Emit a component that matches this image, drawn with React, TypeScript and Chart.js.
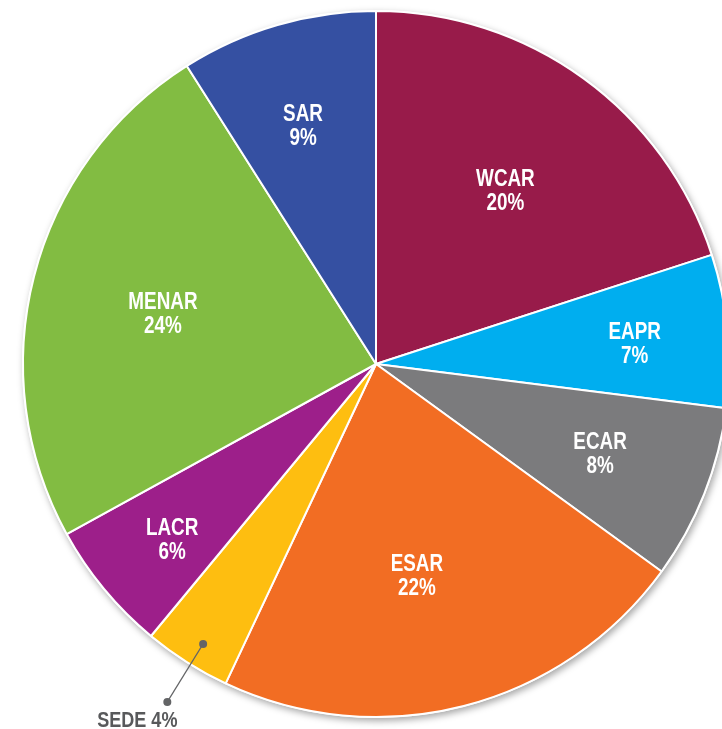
import React, { useEffect, useRef } from "react";
import { Chart, registerables } from "chart.js";

Chart.register(...registerables);

const categories = ["WCAR", "EAPR", "ECAR", "ESAR", "SEDE", "LACR", "MENAR", "SAR"];
const shares = [20, 7, 8, 22, 4, 6, 24, 9];
const percentLabels = ["20%", "7%", "8%", "22%", "4%", "6%", "24%", "9%"];
const sliceColors = ["#981B4A", "#00AEEF", "#7B7B7D", "#F26D23", "#FEBE10", "#9D1F8A", "#82BC42", "#3550A2"];
const labelRadius = [0.612, 0.735, 0.684, 0.612, 0, 0.763, 0.62, 0.705];
const labelAngleShift = [0.8, 1.0, 0.3, 3.5, -0.7, -1.2, -1.2, -0.85];
const outsideIndex = 4;

const FONT = '"Liberation Sans", Arial, Helvetica, sans-serif';
const SQUEEZE = 0.82;

function drawSqueezed(ctx: CanvasRenderingContext2D, text: string, x: number, y: number) {
  ctx.save();
  ctx.translate(x, y);
  ctx.scale(SQUEEZE, 1);
  ctx.fillText(text, 0, 0);
  ctx.restore();
}

const shadowPlugin = {
  id: "pieShadow",
  beforeDatasetsDraw(chart: any) {
    const ctx = chart.ctx;
    const arc = chart.getDatasetMeta(0).data[0];
    if (!arc) return;
    const p = arc.getProps(["x", "y", "outerRadius"], true);
    ctx.save();
    ctx.shadowColor = "rgba(0,0,0,0.35)";
    ctx.shadowBlur = 7;
    ctx.shadowOffsetX = 2;
    ctx.shadowOffsetY = 3;
    ctx.fillStyle = "#FFFFFF";
    ctx.beginPath();
    ctx.arc(p.x, p.y, p.outerRadius + 1, 0, Math.PI * 2);
    ctx.fill();
    ctx.restore();
  },
};

const labelPlugin = {
  id: "sliceLabels",
  afterDatasetsDraw(chart: any) {
    const ctx = chart.ctx;
    const meta = chart.getDatasetMeta(0);
    meta.data.forEach((arc: any, i: number) => {
      const p = arc.getProps(["x", "y", "startAngle", "endAngle", "outerRadius"], true);
      const mid = (p.startAngle + p.endAngle) / 2 + (labelAngleShift[i] * Math.PI) / 180;
      ctx.save();
      if (i === outsideIndex) {
        const r1 = p.outerRadius * 0.932;
        const r2 = p.outerRadius * 1.125;
        const x1 = p.x + Math.cos(mid) * r1;
        const y1 = p.y + Math.sin(mid) * r1;
        const x2 = p.x + Math.cos(mid) * r2;
        const y2 = p.y + Math.sin(mid) * r2;
        ctx.strokeStyle = "#636466";
        ctx.fillStyle = "#636466";
        ctx.lineWidth = 1.2;
        ctx.beginPath();
        ctx.moveTo(x1, y1);
        ctx.lineTo(x2, y2);
        ctx.stroke();
        [[x1, y1], [x2, y2]].forEach(([cx, cy]) => {
          ctx.beginPath();
          ctx.arc(cx, cy, 4, 0, Math.PI * 2);
          ctx.fill();
        });
        ctx.fillStyle = "#58595B";
        ctx.font = `bold 22px ${FONT}`;
        ctx.textAlign = "center";
        ctx.textBaseline = "alphabetic";
        drawSqueezed(ctx, `${categories[i]} ${percentLabels[i]}`, x2 - 30, y2 + 25);
      } else {
        const r = p.outerRadius * labelRadius[i];
        const cx = p.x + Math.cos(mid) * r;
        const cy = p.y + Math.sin(mid) * r;
        ctx.fillStyle = "#FFFFFF";
        ctx.font = `bold 23px ${FONT}`;
        ctx.textAlign = "center";
        ctx.textBaseline = "middle";
        drawSqueezed(ctx, categories[i], cx, cy - 11.5);
        drawSqueezed(ctx, percentLabels[i], cx, cy + 12.5);
      }
      ctx.restore();
    });
  },
};

export default function App() {
  const ref = useRef<HTMLCanvasElement | null>(null);
  useEffect(() => {
    if (!ref.current) return;
    const chart = new Chart(ref.current, {
      type: "pie",
      data: {
        labels: categories,
        datasets: [
          {
            data: shares,
            backgroundColor: sliceColors,
            borderColor: "#FFFFFF",
            borderWidth: 2,
          },
        ],
      },
      options: {
        responsive: false,
        animation: false,
        layout: { padding: { left: 22, right: 22, top: 10, bottom: 11 } },
        plugins: {
          legend: { display: false },
          tooltip: { enabled: false },
        },
      },
      plugins: [shadowPlugin, labelPlugin],
    });
    return () => chart.destroy();
  }, []);
  return (
    <div
      style={{
        position: "absolute",
        left: 0,
        top: 0,
        width: 722,
        height: 729,
        overflow: "hidden",
        background: "#FFFFFF",
      }}
    >
      <canvas ref={ref} width={752} height={729} style={{ display: "block" }} />
    </div>
  );
}
